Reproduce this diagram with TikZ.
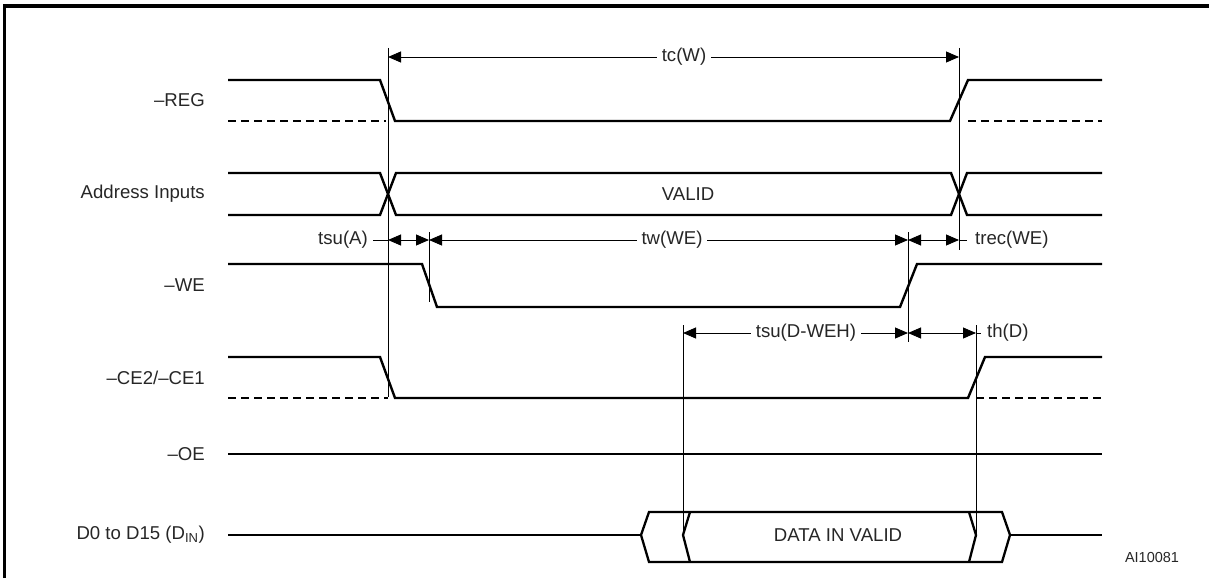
\documentclass[tikz,border=0pt]{standalone}
\usepackage{fontspec}
\setmainfont{Liberation Sans}
\usetikzlibrary{arrows.meta}
\begin{document}
\begin{tikzpicture}[x=1pt,y=-1pt,
  sig/.style={line width=2.4pt,line join=miter},
  dsig/.style={line width=2.4pt,dash pattern=on 8pt off 5pt},
  bus/.style={line width=2.3pt,line join=miter},
  mline/.style={line width=0.9pt},
  dimarrow/.style={line width=0.9pt,{Triangle[length=13pt,width=11pt]}-{Triangle[length=13pt,width=11pt]}},
  sname/.style={font=\fontsize{18.6}{20}\selectfont,anchor=east,inner sep=0pt,text=black!85},
  dlbl/.style={font=\fontsize{18.6}{20}\selectfont,fill=white,inner sep=5pt,text=black!85},
  slbl/.style={font=\fontsize{18.6}{20}\selectfont,inner sep=0pt,text=black!85},
  frame/.style={line width=3.5pt}
]
\useasboundingbox (0,0) rectangle (1209,578);
% frame (only left and top edges visible)
\coordinate (fbl) at (4.5,578);
\coordinate (ftl) at (4.5,6);
\coordinate (ftr) at (1209,6);
\draw[frame] (fbl) -- (ftl) -- (ftr);

% signal names
\node[sname] (nREG) at (205,100) {\textendash REG};
\node[sname] (nADR) at (205,194) {Address Inputs};
\node[sname] (nWE)  at (205,285) {\textendash WE};
\node[sname] (nCE)  at (205,378) {\textendash CE2/\textendash CE1};
\node[sname] (nOE)  at (205,454) {\textendash OE};
\node[sname] (nD)   at (205,535) {D0 to D15 (D\textsubscript{IN})};

% -REG
\draw[sig] (228,80) -- (380,80) -- (395,121) -- (950,121) -- (968,80) -- (1102,80);
\draw[dsig] (228,121) -- (386,121);
\draw[dsig] (968,121) -- (1102,121);

% Address inputs
\draw[sig] (228,173) -- (380,173) -- (396,215) -- (951,215) -- (967,173) -- (1102,173);
\draw[sig] (228,215) -- (380,215) -- (396,173) -- (951,173) -- (967,215) -- (1102,215);
\node[slbl] (tVALID) at (688,194) {VALID};

% -WE
\draw[sig] (228,264) -- (422,264) -- (437,307) -- (900,307) -- (917,264) -- (1102,264);

% -CE2/-CE1
\draw[sig] (228,357) -- (380,357) -- (395,398) -- (968,398) -- (985,357) -- (1102,357);
\draw[dsig] (228,398) -- (388,398);
\draw[dsig] (976,398) -- (1102,398);

% -OE
\draw[sig] (228,454) -- (1102,454);

% Data bus
\draw[sig] (228,535) -- (641,535);
\draw[sig] (1010,535) -- (1102,535);
\draw[bus] (641,535) -- (649,512) -- (1002,512) -- (1010,535) -- (1002,562) -- (649,562) -- cycle;
\draw[bus] (690,512) -- (683,535) -- (690,562);
\draw[bus] (969,512) -- (976,535) -- (969,562);
\node[slbl] (tDATA) at (838,535) {DATA IN VALID};

% vertical reference lines
\coordinate (v1t) at (388,48);  \coordinate (v1b) at (388,397);
\coordinate (v2t) at (959,48);  \coordinate (v2b) at (959,250);
\coordinate (v3t) at (429,232); \coordinate (v3b) at (429,302);
\coordinate (v4t) at (908,232); \coordinate (v4b) at (908,342);
\coordinate (v5t) at (683,325); \coordinate (v5b) at (683,535);
\coordinate (v6t) at (976,325); \coordinate (v6b) at (976,535);
\draw[mline] (v1t) -- (v1b);
\draw[mline] (v2t) -- (v2b);
\draw[mline] (v3t) -- (v3b);
\draw[mline] (v4t) -- (v4b);
\draw[mline] (v5t) -- (v5b);
\draw[mline] (v6t) -- (v6b);

% tc(W)
\coordinate (tcA) at (388,57); \coordinate (tcB) at (959,57);
\draw[dimarrow] (tcA) -- (tcB);
\node[dlbl] (ltc) at (684,57) {tc(W)};

% tsu(A), tw(WE), trec(WE)
\coordinate (r1a) at (388,240); \coordinate (r1b) at (429,240);
\coordinate (r1c) at (908,240); \coordinate (r1d) at (959,240);
\coordinate (r1l) at (373,240); \coordinate (r1r) at (967,240);
\draw[mline] (r1l) -- (r1a);
\draw[dimarrow] (r1a) -- (r1b);
\draw[dimarrow] (r1b) -- (r1c);
\draw[dimarrow] (r1c) -- (r1d);
\draw[mline] (r1d) -- (r1r);
\node[slbl,anchor=east] (ltsuA) at (368,240) {tsu(A)};
\node[dlbl] (ltw) at (672,240) {tw(WE)};
\node[slbl,anchor=west] (ltrec) at (975,240) {trec(WE)};

% tsu(D-WEH), th(D)
\coordinate (r2a) at (683,333); \coordinate (r2b) at (908,333);
\coordinate (r2c) at (976,333); \coordinate (r2r) at (981,333);
\draw[dimarrow] (r2a) -- (r2b);
\draw[dimarrow] (r2b) -- (r2c);
\draw[mline] (r2c) -- (r2r);
\node[dlbl] (ltsuD) at (806,333) {tsu(D-WEH)};
\node[slbl,anchor=west] (lth) at (987,333) {th(D)};

% figure code
\node[font=\fontsize{14.5}{16}\selectfont,inner sep=0pt,text=black!85] (code) at (1152,558) {AI10081};
\end{tikzpicture}
\end{document}
